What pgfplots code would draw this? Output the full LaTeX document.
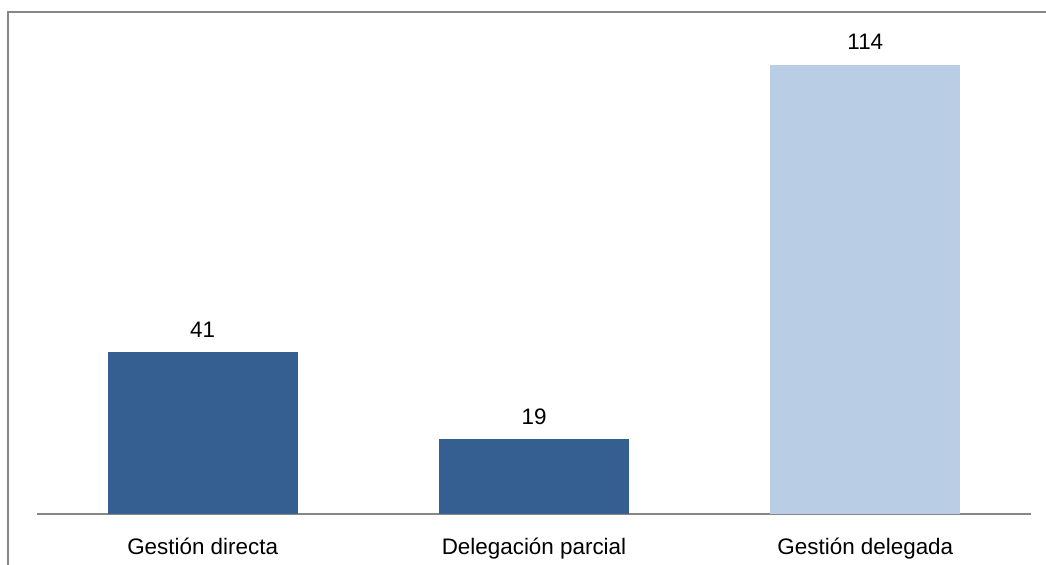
\documentclass[border=0pt]{standalone}
\usepackage{pgfplots}
\pgfplotsset{compat=1.18}
\usepackage{fontspec}
\setmainfont{Liberation Sans}
\definecolor{darkbar}{RGB}{54,95,145}
\definecolor{lightbar}{RGB}{185,205,229}
\definecolor{framegray}{RGB}{135,135,135}
\begin{document}
\begin{tikzpicture}[x=1bp,y=1bp]
\path[use as bounding box] (0,0) rectangle (1046,565);
\draw[framegray, line width=2bp] (8,0) -- (8,553) -- (1046,553);
\begin{axis}[
  at={(37bp,51bp)}, anchor=south west,
  scale only axis,
  width=994bp, height=492.5bp,
  xmin=-0.5, xmax=2.5,
  ymin=0, ymax=125,
  axis x line*=bottom,
  axis y line=none,
  x axis line style={framegray, line width=1.5bp, -},
  xtick={0,1,2},
  xticklabels={Gestión directa, Delegación parcial, Gestión delegada},
  xtick style={draw=none},
  xticklabel style={font=\fontsize{22.5}{26}\selectfont, anchor=base, yshift=-36bp},
  ytick=\empty,
  ybar, bar width=190bp, bar shift=0pt,
  nodes near coords,
  /pgf/number format/assume math mode=true,
  every node near coord/.append style={font=\fontsize{22.5}{26}\selectfont, text=black, anchor=base, yshift=15bp},
  clip=false,
]
\addplot[fill=darkbar, draw=none] coordinates {(0,41)};
\addplot[fill=darkbar, draw=none] coordinates {(1,19)};
\addplot[fill=lightbar, draw=none] coordinates {(2,114)};
\end{axis}
\end{tikzpicture}
\end{document}
